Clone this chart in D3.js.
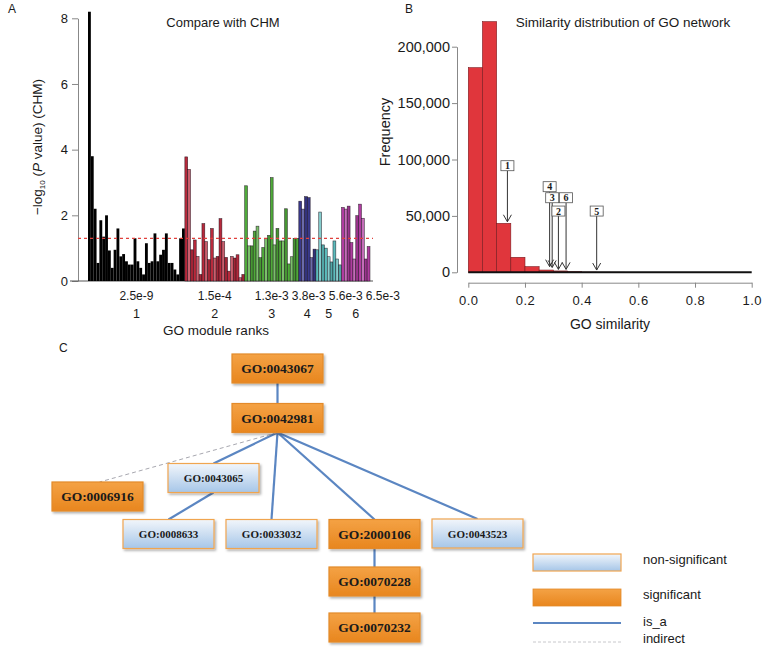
<!DOCTYPE html>
<html><head><meta charset="utf-8">
<script src="https://cdn.jsdelivr.net/npm/d3@7"></script>
<style>
body{margin:0;background:#fff}
svg{display:block}
text{font-family:"Liberation Sans",Arial,sans-serif;fill:#1a1a1a}
.serif{font-family:"Liberation Serif","Times New Roman",serif;font-weight:bold}
</style>
</head><body>
<svg id="chart" width="766" height="653"></svg>
<script>
// ---------- Panel A data ----------
const moduleRanks = ["1","2","3","4","5","6"];
const modulePvals = ["2.5e-9","1.5e-4","1.3e-3","3.8e-3","5.6e-3","6.5e-3"];
const module1 = [8.2,3.8,2.2,0.55,1.85,1.35,2.0,0.93,0.4,0.95,1.6,0.75,0.82,0.6,0.5,0.5,1.3,0.6,0.4,0.2,1.15,0.55,0.6,1.45,0.6,0.8,0.95,1.45,0.55,0.55,0.35,0.2,1.3,1.6];
const module2 = [3.78,3.4,0.95,1.25,0.75,0.2,1.75,1.2,0.65,1.6,0.7,0.75,1.9,1.2,0.72,0.3,0.75,0.7,0.8,0.1,0.2];
const module3 = [2.9,1.07,1.07,1.52,1.67,0.71,1.02,1.3,1.39,3.15,1.1,1.6,1.22,1.22,2.2,0.52,0.74,1.3,1.3];
const module4 = [2.43,2.19,2.57,2.54,0.71,0.97];
const module5 = [0.95,2.1,1.1,1.0,0.74,0.58,1.22,0.67,0.49];
const module6 = [2.24,2.19,2.28,1.17,0.67,1.99,2.34,1.91,0.67,1.05];
const moduleColors = ["#000000","#b82a3c","#4faa3a","#3a3a8c","#5cbcbc","#b03ca0"];
const sigThreshold = 1.3;
const aTicks = [0,2,4,6,8];

// ---------- Panel B data ----------
const binStarts = [0,0.05,0.10,0.15,0.20,0.25,0.30,0.35,0.40,0.45,0.50,0.55,0.60,0.65,0.70,0.75,0.80,0.85,0.90,0.95];
const binFreqs  = [181400,222200,43400,13300,5000,2000,1200,600,200,100,50,0,0,0,0,0,0,0,0,0];
const bTicksY = [0,50000,100000,150000,200000];
const bTicksX = [0,0.2,0.4,0.6,0.8,1.0];
const markerLabels = ["1","4","3","6","2","5"];
const markerSim = [0.138,0.287,0.296,0.345,0.318,0.453];
const markerLabelFreq = [94500,75900,66100,66100,54300,54300];
const markerTipFreq = [44800,5000,4300,2600,2600,2000];

// ---------- Panel C data ----------
const goTerms = ["GO:0043067","GO:0042981","GO:0043065","GO:0006916","GO:0008633","GO:0033032","GO:2000106","GO:0043523","GO:0070228","GO:0070232"];
const goSignificant = [true,true,false,true,false,false,true,false,true,true];
const goEdgeSource = ["GO:0043067","GO:0042981","GO:0042981","GO:0042981","GO:0042981","GO:0042981","GO:0043065","GO:2000106","GO:0070228"];
const goEdgeTarget = ["GO:0042981","GO:0043065","GO:0006916","GO:0033032","GO:2000106","GO:0043523","GO:0008633","GO:0070228","GO:0070232"];
const goEdgeType   = ["is_a","is_a","indirect","is_a","is_a","is_a","is_a","is_a","is_a"];
const legendLabels = ["non-significant","significant","is_a","indirect"];

// layout (positions only) for panel C nodes: center x, center y
const nodeLayout = {
  "GO:0043067":[277.5,368.5],"GO:0042981":[277.5,418],"GO:0043065":[213.5,478],
  "GO:0006916":[97.5,496.5],"GO:0008633":[168.5,534],"GO:0033032":[271.5,534],
  "GO:2000106":[374.5,534],"GO:0043523":[477.5,533.5],"GO:0070228":[374.5,581.5],
  "GO:0070232":[374.5,627.5]
};

const svg = d3.select("#chart");
const defs = svg.append("defs");

// ================= Panel A =================
{
  const groups = [module1,module2,module3,module4,module5,module6];
  const bars = [];
  groups.forEach((g,gi)=>g.forEach((v,i)=>bars.push({v,gi,i,idx:bars.length})));
  const x = d3.scaleBand().domain(bars.map(d=>d.idx)).range([88,370]).paddingInner(0);
  const y = d3.scaleLinear().domain([0,8]).range([281,18.3]);
  const g = svg.append("g");

  g.append("text").attr("x",8).attr("y",13).attr("font-size",12).text("A");
  g.append("text").attr("x",223).attr("y",27).attr("font-size",13).attr("text-anchor","middle").text("Compare with CHM");

  const yAxis = d3.axisLeft(y).tickValues(aTicks).tickSize(6).tickPadding(4).tickSizeOuter(0);
  const ya = g.append("g").attr("transform","translate(78,0)").call(yAxis);
  ya.selectAll("path,line").attr("stroke","#888");
  ya.selectAll("text").attr("font-size",13).attr("fill","#1a1a1a").attr("font-family","Liberation Sans, Arial, sans-serif");
  g.append("line").attr("x1",70).attr("x2",373).attr("y1",y(0)).attr("y2",y(0)).attr("stroke","#555");

  const shade = (base,i)=>{
    if(base==="#000000") return base;
    const m = i%3;
    if(m===0) return base;
    if(m===1) return d3.interpolateRgb(base,"#ffffff")(0.25);
    return d3.color(base).darker(0.35).formatHex();
  };
  g.selectAll("rect.bar").data(bars).join("rect").attr("class","bar")
    .attr("x",d=>x(d.idx)).attr("width",x.bandwidth())
    .attr("y",d=>y(d.v)).attr("height",d=>y(0)-y(d.v))
    .attr("fill",d=>shade(moduleColors[d.gi],d.i))
    .attr("stroke",d=>d.gi===0?"none":"rgba(20,10,20,0.75)").attr("stroke-width",0.6);

  g.append("line").attr("x1",78).attr("x2",373).attr("y1",y(sigThreshold)).attr("y2",y(sigThreshold))
    .attr("stroke","#e0403c").attr("stroke-width",1.3).attr("stroke-dasharray","3,3");

  let start = 0; const centers=[];
  groups.forEach(gr=>{
    const a = x(start), b = x(start+gr.length-1)+x.bandwidth();
    centers.push((a+b)/2); start += gr.length;
  });
  let prevRight = -1e9;
  modulePvals.forEach((p,i)=>{
    const t = g.append("text").attr("y",300).attr("font-size",12).attr("text-anchor","middle").text(p);
    const w = t.node().getComputedTextLength();
    let cx = Math.max(centers[i], prevRight + 3 + w/2);
    t.attr("x",cx); prevRight = cx + w/2;
  });
  moduleRanks.forEach((r,i)=>{
    g.append("text").attr("x",centers[i]).attr("y",318).attr("font-size",12.5).attr("text-anchor","middle").text(r);
  });
  g.append("text").attr("x",216).attr("y",335).attr("font-size",13.5).attr("text-anchor","middle").text("GO module ranks");

  const yl = g.append("text").attr("transform","translate(42,147) rotate(-90)").attr("text-anchor","middle").attr("font-size",13.5);
  yl.append("tspan").text("\u2212log");
  yl.append("tspan").attr("font-size",8).attr("dy",3).text("10");
  yl.append("tspan").attr("dy",-3).text(" (");
  yl.append("tspan").attr("font-style","italic").text("P");
  yl.append("tspan").text(" value) (CHM)");
}

// ================= Panel B =================
{
  const x = d3.scaleLinear().domain([0,1]).range([468.3,751.7]);
  const y = d3.scaleLinear().domain([0,200000]).range([272.3,46.7]);
  const g = svg.append("g");
  g.append("text").attr("x",405).attr("y",13).attr("font-size",12).text("B");
  g.append("text").attr("x",623).attr("y",27).attr("font-size",13.5).attr("text-anchor","middle").text("Similarity distribution of GO network");

  const ya = g.append("g").attr("transform","translate(457,0)")
    .call(d3.axisLeft(y).tickValues(bTicksY).tickFormat(d3.format(",")).tickSize(5).tickPadding(2).tickSizeOuter(0));
  ya.selectAll("path,line").attr("stroke","#888");
  ya.selectAll("text").attr("font-size",14.5).attr("fill","#1a1a1a").attr("font-family","Liberation Sans, Arial, sans-serif");

  const xa = g.append("g").attr("transform","translate(0,282.7)")
    .call(d3.axisBottom(x).tickValues(bTicksX).tickFormat(d3.format(".1f")).tickSize(5).tickPadding(8).tickSizeOuter(0));
  xa.selectAll("path,line").attr("stroke","#888");
  xa.selectAll("text").attr("font-size",13).attr("fill","#1a1a1a").attr("letter-spacing","0.5").attr("font-family","Liberation Sans, Arial, sans-serif");

  const bw = binStarts[1]-binStarts[0];
  g.selectAll("rect.hist").data(binStarts.map((s,i)=>({s,f:binFreqs[i]})).filter(d=>d.f>0)).join("rect")
    .attr("class","hist").attr("x",d=>x(d.s)).attr("width",d=>x(d.s+bw)-x(d.s))
    .attr("y",d=>y(d.f)).attr("height",d=>y(0)-y(d.f))
    .attr("fill","#e0363c").attr("stroke","#7a1a1e").attr("stroke-width",0.6);
  g.append("line").attr("x1",x(0)).attr("x2",x(1)).attr("y1",y(0)).attr("y2",y(0)).attr("stroke","#111").attr("stroke-width",2);

  g.append("text").attr("transform","translate(390,132) rotate(-90)").attr("text-anchor","middle").attr("font-size",14.5).text("Frequency");
  g.append("text").attr("x",610).attr("y",329).attr("font-size",14).attr("text-anchor","middle").text("GO similarity");

  markerLabels.forEach((lab,i)=>{
    const cx = x(markerSim[i]), cy = y(markerLabelFreq[i]);
    const tipY = y(markerTipFreq[i]);
    g.append("line").attr("x1",cx).attr("x2",cx).attr("y1",cy+5).attr("y2",tipY).attr("stroke","#333").attr("stroke-width",1);
    g.append("path").attr("d",`M${cx-4},${tipY-7}L${cx},${tipY}L${cx+4},${tipY-7}`).attr("fill","none").attr("stroke","#333").attr("stroke-width",1);
    g.append("rect").attr("x",cx-6.5).attr("y",cy-5).attr("width",13).attr("height",10).attr("fill","#fff").attr("stroke","#555").attr("stroke-width",0.8);
    g.append("text").attr("class","serif").attr("x",cx).attr("y",cy+3.5).attr("text-anchor","middle").attr("font-size",10).text(lab);
  });
}

// ================= Panel C =================
{
  const og = defs.append("linearGradient").attr("id","orangeGrad").attr("x1",0).attr("y1",0).attr("x2",0).attr("y2",1);
  og.append("stop").attr("offset","0%").attr("stop-color","#f4a245");
  og.append("stop").attr("offset","100%").attr("stop-color","#e8861e");
  const bg = defs.append("linearGradient").attr("id","blueGrad").attr("x1",0).attr("y1",0).attr("x2",0).attr("y2",1);
  bg.append("stop").attr("offset","0%").attr("stop-color","#f2f6fb");
  bg.append("stop").attr("offset","100%").attr("stop-color","#a6c6e8");
  const f = defs.append("filter").attr("id","shadow").attr("x","-20%").attr("y","-20%").attr("width","150%").attr("height","160%");
  f.append("feDropShadow").attr("dx",1.5).attr("dy",1.8).attr("stdDeviation",1.2).attr("flood-color","#000").attr("flood-opacity",0.3);

  const W = 91, H = 29;
  const g = svg.append("g");
  g.append("text").attr("x",59).attr("y",352).attr("font-size",12).text("C");

  goEdgeSource.forEach((s,i)=>{
    const t = goEdgeTarget[i];
    const [sx,sy] = nodeLayout[s], [tx,ty] = nodeLayout[t];
    const ind = goEdgeType[i]==="indirect";
    g.append("line").attr("x1",sx).attr("y1",sy+H/2).attr("x2",ind?tx+2:tx).attr("y2",ty-H/2)
      .attr("stroke",ind?"#a8a8b0":"#5b86c2").attr("stroke-width",ind?1:2.2)
      .attr("stroke-dasharray",ind?"4,3":null);
  });

  goTerms.forEach((term,i)=>{
    const [cx,cy] = nodeLayout[term];
    const sig = goSignificant[i];
    g.append("rect").attr("x",cx-W/2).attr("y",cy-H/2).attr("width",W).attr("height",H)
      .attr("fill",sig?"url(#orangeGrad)":"url(#blueGrad)")
      .attr("stroke",sig?"#e38a2a":"#f0a550").attr("stroke-width",1.2)
      .attr("filter","url(#shadow)");
    g.append("text").attr("class","serif").attr("x",cx).attr("y",cy+(sig?4.8:4))
      .attr("text-anchor","middle").attr("font-size",sig?13.5:11).attr("fill","#2a2a2a").text(term);
  });

  const lx1 = 533, lx2 = 621, tx = 643;
  g.append("rect").attr("x",lx1).attr("y",554).attr("width",lx2-lx1).attr("height",17)
    .attr("fill","url(#blueGrad)").attr("stroke","#f0a550").attr("stroke-width",1.2);
  g.append("rect").attr("x",lx1).attr("y",589).attr("width",lx2-lx1).attr("height",17)
    .attr("fill","url(#orangeGrad)").attr("stroke","#e38a2a").attr("stroke-width",0.8);
  g.append("line").attr("x1",lx1).attr("x2",lx2).attr("y1",623).attr("y2",623).attr("stroke","#5b86c2").attr("stroke-width",2);
  g.append("line").attr("x1",lx1).attr("x2",lx2).attr("y1",642).attr("y2",642).attr("stroke","#c8c8cc").attr("stroke-width",1).attr("stroke-dasharray","3,2");
  const ly = [564,599,626,643];
  legendLabels.forEach((l,i)=>g.append("text").attr("x",tx).attr("y",ly[i]).attr("font-size",13).text(l));
}
</script>
</body></html>
